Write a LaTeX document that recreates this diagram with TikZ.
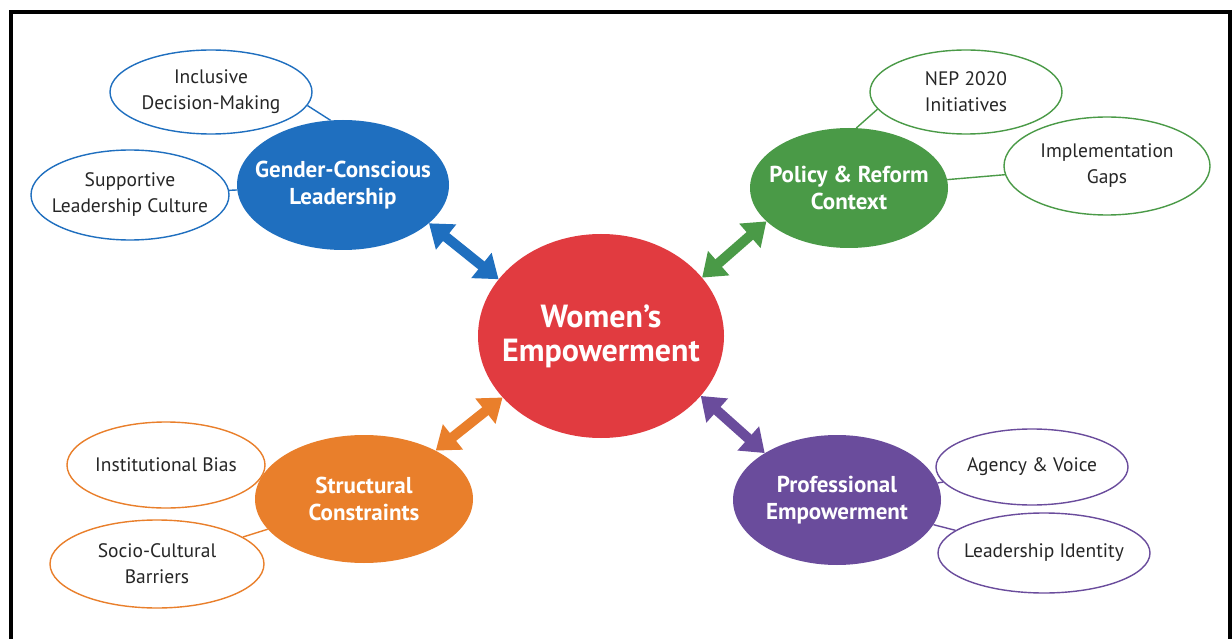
\documentclass[tikz,border=0pt]{standalone}
\usepackage{fontspec}
\setmainfont{PT Sans}
\usetikzlibrary{shapes.geometric,arrows.meta}
\definecolor{cblue}{HTML}{1F6FBF}
\definecolor{cgreen}{HTML}{4A9A47}
\definecolor{corange}{HTML}{E97F2B}
\definecolor{cpurple}{HTML}{6A4C9C}
\definecolor{cred}{HTML}{E13B40}
\definecolor{ctext}{HTML}{262626}
\newcommand{\zl}[1]{\makebox[0pt]{#1}}
\tikzset{
  hub/.style={ellipse, inner sep=0pt, text=white, font=\bfseries\fontsize{23}{27}\selectfont, align=center},
  sat/.style={ellipse, inner sep=0pt, draw=#1, fill=white, line width=1.4pt, text=ctext, font=\fontsize{19.5}{26}\selectfont, align=center},
  link/.style={draw=#1, line width=1.4pt},
  dbl/.style={draw=#1, line width=10pt, {Triangle[length=22pt,width=31pt]}-{Triangle[length=22pt,width=31pt]}, fill=#1}
}
\begin{document}
\begin{tikzpicture}[x=1pt,y=-1pt]
\useasboundingbox (0,0) rectangle (1232,639);
\fill[white] (0,0) rectangle (1232,639);
\draw[line width=4pt] (11,641) -- (11,12) -- (1230,12) -- (1230,641);

% central
\node[hub, fill=cred, minimum width=246pt, minimum height=204pt, font=\bfseries\fontsize{32}{34}\selectfont] (wem) at (601,336) {\zl{Women’s}\\\zl{Empowerment}};

% hubs
\node[hub, fill=cblue, minimum width=212pt, minimum height=130pt] (gcl) at (343,185) {\zl{Gender-Conscious}\\\zl{Leadership}};
\node[hub, fill=cgreen, minimum width=198pt, minimum height=120pt] (prc) at (849,188) {\zl{Policy \& Reform}\\\zl{Context}};
\node[hub, fill=corange, minimum width=218pt, minimum height=128pt] (stc) at (364,499) {\zl{Structural}\\\zl{Constraints}};
\node[hub, fill=cpurple, minimum width=208pt, minimum height=130pt] (pre) at (837,500) {\zl{Professional}\\\zl{Empowerment}};

% satellites
\node[sat=cblue, minimum width=202pt, minimum height=84pt] (idm) at (211,92) {\zl{Inclusive}\\\zl{Decision-Making}};
\node[sat=cblue, minimum width=198pt, minimum height=90pt] (slc) at (130,195) {\zl{Supportive}\\\zl{Leadership Culture}};
\node[sat=cgreen, minimum width=192pt, minimum height=84pt] (nep) at (966,92) {\zl{NEP 2020}\\\zl{Initiatives}};
\node[sat=cgreen, minimum width=206pt, minimum height=98pt] (ig) at (1107,166) {\zl{Implementation}\\\zl{Gaps}};
\node[sat=corange, minimum width=198pt, minimum height=86pt] (ib) at (166,465) {\zl{Institutional Bias}};
\node[sat=corange, minimum width=214pt, minimum height=88pt] (scb) at (157,564) {\zl{Socio-Cultural}\\\zl{Barriers}};
\node[sat=cpurple, minimum width=192pt, minimum height=76pt] (av) at (1032,467) {\zl{Agency \& Voice}};
\node[sat=cpurple, minimum width=212pt, minimum height=80pt] (li) at (1044,553) {\zl{Leadership Identity}};

% satellite links
\draw[link=cblue] (idm.-8) -- (gcl.101);
\draw[link=cblue] (slc) -- (gcl);
\draw[link=cgreen] (nep.191) -- (prc.83);
\draw[link=cgreen] (ig) -- (prc);
\draw[link=corange] (ib) -- (stc);
\draw[link=corange] (scb) -- (stc);
\draw[link=cpurple] (av) -- (pre);
\draw[link=cpurple] (li) -- (pre);

% double arrows
\draw[dbl=cblue] (gcl.-24) -- (wem.151);
\draw[dbl=cgreen] (prc.-158) -- (wem.30);
\draw[dbl=corange] (stc.34) -- (wem.212);
\draw[dbl=cpurple] (pre.147) -- (wem.-31);
\end{tikzpicture}
\end{document}
